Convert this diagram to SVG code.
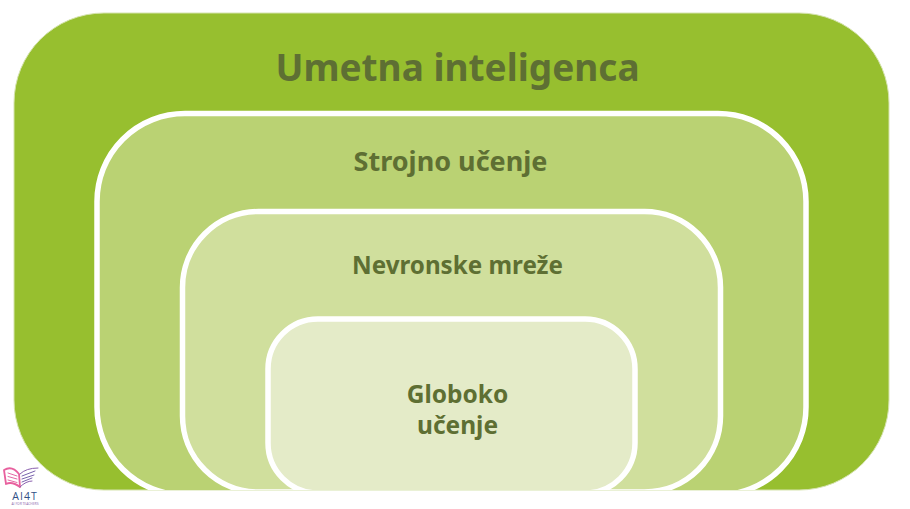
<svg xmlns="http://www.w3.org/2000/svg" width="910" height="509" viewBox="0 0 910 509">
<style>
.t{font-family:"Noto Sans","Open Sans",sans-serif;font-weight:700;fill:#5e6f33;text-anchor:middle}
.r{stroke:#fff;stroke-width:5.500}
.b{fill:none;stroke-linecap:round;stroke-linejoin:round}
.l{font-family:"Open Sans",sans-serif;text-anchor:middle}
</style>
<defs><clipPath id="c"><rect x="14" y="13" width="875" height="477" rx="90" ry="90"/></clipPath></defs>
<rect width="910" height="509" fill="#fff"/>
<g id="umetna-inteligenca">
<rect x="14" y="13" width="875" height="477" rx="90" ry="90" fill="#97bf2f" stroke="#d5e3ae" stroke-width="1"/>
<text class="t" x="457.500" y="81" font-size="37">Umetna inteligenca</text>
</g>
<g id="strojno-ucenje" clip-path="url(#c)">
<rect class="r" x="97" y="113.500" width="709" height="381.500" rx="88" ry="88" fill="#bad273"/>
<text class="t" x="450.500" y="171" font-size="27">Strojno učenje</text>
</g>
<g id="nevronske-mreze" clip-path="url(#c)">
<rect class="r" x="182.500" y="211.500" width="538" height="280.500" rx="76" ry="76" fill="#d0df9d"/>
<text class="t" x="457.500" y="274" font-size="24.200">Nevronske mreže</text>
</g>
<g id="globoko-ucenje" clip-path="url(#c)">
<rect class="r" x="268" y="319" width="367" height="174" rx="50" ry="50" fill="#e4ebc8"/>
<text class="t" x="457.500" y="403" font-size="24.500">Globoko</text>
<text class="t" x="457.500" y="434" font-size="24.500">učenje</text>
</g>
<g id="logo">
<path class="b" d="M4 470Q12 465 19 474L20 487Q12 481 6 484Z" stroke="#e8609e" stroke-width="1.800"/>
<path class="b" d="M20 474Q26 468 38 468M20 487Q26 481 32 481" stroke="#8a5fae" stroke-width="1"/>
<path class="b" d="M8 473L17 476M8 476.500L17 479M8 480L17 482.500" stroke="#e56aa5" stroke-width="1"/>
<path class="b" d="M22 476L35 471M22 479L34 475M22 482L32 478" stroke="#7a63ad" stroke-width="1"/>
<text class="l" x="25" y="499.500" font-size="10.500" letter-spacing="1" fill="#2f4f86">AI4T</text>
<text class="l" x="25" y="505" font-size="3.300" fill="#8a63ad">AI FOR TEACHERS</text>
</g>
</svg>
